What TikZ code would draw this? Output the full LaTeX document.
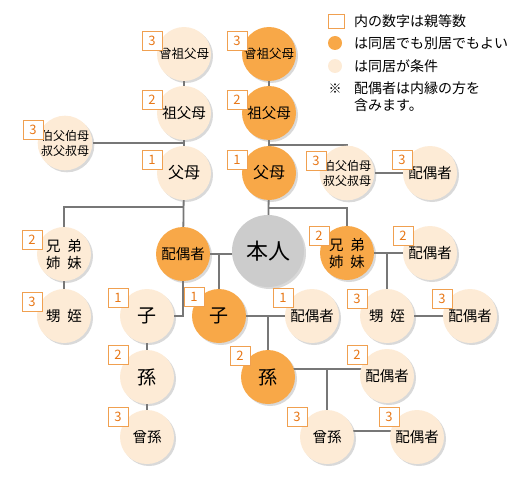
\documentclass[tikz,border=0pt]{standalone}
\usepackage{fontspec}
\setmainfont{Noto Sans CJK JP}
\usetikzlibrary{backgrounds,shadows}
\definecolor{KinOrange}{HTML}{F8A848}
\definecolor{KinCream}{HTML}{FDEBD6}
\definecolor{KinGray}{HTML}{CCCCCC}
\definecolor{KinLine}{HTML}{777777}
\definecolor{KinBadge}{HTML}{F0A050}
\definecolor{KinDigit}{HTML}{E87818}

\begin{document}
\begin{tikzpicture}[x=1pt, y=-1pt,
    kin/.style={circle, minimum size=54pt, inner sep=0pt, align=center, font=\fontsize{14.5}{17}\selectfont,
      drop shadow={shadow xshift=2pt, shadow yshift=-2pt, opacity=.3}},
    near/.style={kin, fill=KinCream},
    far/.style={kin, fill=KinOrange},
    small/.style={font=\fontsize{12}{15}\selectfont},
    big/.style={font=\fontsize{19}{19}\selectfont},
    deg/.style={draw=KinBadge, line width=1pt, fill=white, minimum width=20pt, minimum height=19pt, inner sep=0pt,
      text=KinDigit, font=\fontsize{13}{13}\selectfont},
    keytext/.style={anchor=west, inner sep=0pt, align=left, font=\fontsize{14}{17}\selectfont},
    link/.style={draw=KinLine, line width=1.8pt}]

  \useasboundingbox (0,0) rectangle (518,500);

  \node[near, font=\fontsize{12.5}{15}\selectfont] (ggpl) at (184,54) {曾祖父母};
  \node[far, font=\fontsize{12.5}{15}\selectfont] (ggpr) at (269,54) {曾祖父母};
  \node[near] (gpl) at (184,113) {祖父母};
  \node[far] (gpr) at (269,113) {祖父母};
  \node[near, small] (unl) at (65,143) {伯父伯母\\叔父叔母};
  \node[near, font=\fontsize{16}{16}\selectfont] (pl) at (184,173) {父母};
  \node[far, font=\fontsize{16}{16}\selectfont] (pr) at (269,173) {父母};
  \node[near, small] (unr) at (347,173) {伯父伯母\\叔父叔母};
  \node[near] (unrs) at (430,173) {配偶者};

  \node[near] (sibl) at (64,254) {兄\hspace{7pt}弟\\姉\hspace{7pt}妹};
  \node[far] (sp) at (183,254) {配偶者};
  \node[circle, fill=KinGray, minimum size=72pt, inner sep=0pt, font=\fontsize{22}{22}\selectfont,
    drop shadow={shadow xshift=2pt, shadow yshift=-2pt, opacity=.3}] (me) at (268,251) {本人};
  \node[far] (sibr) at (347,253) {兄\hspace{7pt}弟\\姉\hspace{7pt}妹};
  \node[near] (sibrs) at (430,253) {配偶者};

  \node[near] (nepl) at (64,316) {甥\hspace{7pt}姪};
  \node[near, big] (chl) at (147,316) {子};
  \node[far, big] (chr) at (219,316) {子};
  \node[near] (chrs) at (312,316) {配偶者};
  \node[near] (nepr) at (387,316) {甥\hspace{7pt}姪};
  \node[near] (neprs) at (470,316) {配偶者};

  \node[near, big] (gcl) at (147,377) {孫};
  \node[far, big] (gcr) at (268,377) {孫};
  \node[near] (gcrs) at (387,376) {配偶者};

  \node[near] (ggcl) at (147,437) {曾孫};
  \node[near] (ggcr) at (327,437) {曾孫};
  \node[near] (ggcrs) at (417,437) {配偶者};

  \begin{scope}[on background layer]
    \draw[link] (ggpl) -- (gpl) -- (pl) -- (sp);
    \draw[link] (unl) -- (unl -| gpl);
    \draw[link] (ggpr) -- (gpr) -- (pr) -- (me);
    \draw[link] (pr |- 0,145) -| (unr);
    \draw[link] (unr) -- (unrs);
    \draw[link] (pl |- 0,207) -| (sibl) -- (nepl);
    \draw[link] (pr |- 0,208) -| (sibr);
    \draw[link] (sp) -- (sp -| me);
    \draw[link] (chr |- sp) -- (chr);
    \draw[link] (sp) |- (chl);
    \draw[link] (chl) -- (gcl) -- (ggcl);
    \draw[link] (chr) -- (chrs);
    \draw[link] (gcr |- chr) -- (gcr);
    \draw[link] (sibr) -- (sibrs);
    \draw[link] (nepr |- sibr) -- (nepr);
    \draw[link] (nepr) -- (neprs);
    \draw[link] (gcr |- 0,369) -- (gcrs |- 0,369);
    \draw[link] (ggcr |- 0,369) -- (ggcr);
    \draw[link] (ggcr |- 0,431) -- (ggcrs |- 0,431);
  \end{scope}

  \foreach \n/\x/\y/\d in {ggpl/152/41/3, ggpr/237/41/3, gpl/152/100/2, gpr/237/100/2, unl/33/130/3,
      pl/152/160/1, pr/237/160/1, unr/316/161/3, unrs/402/160/3,
      sibl/32/240/2, sibr/319/236/2, sibrs/403/236/2,
      nepl/32/302/3, chl/118/298/1, chr/194/297/1, chrs/283/298/1, nepr/357/299/3, neprs/442/299/3,
      gcl/118/355/2, gcr/240/356/2, gcrs/357/355/2,
      ggcl/118/417/3, ggcr/297/417/3, ggcrs/389/417/3}
    \node[deg] (d\n) at (\x,\y) {\d};

  \node[draw=KinBadge, line width=.8pt, fill=white, minimum width=16pt, minimum height=14pt, inner sep=0pt] (keybox) at (336,21) {};
  \node[circle, fill=KinOrange, minimum size=14pt, inner sep=0pt] (keyfar) at (335,43) {};
  \node[circle, fill=KinCream, minimum size=14pt, inner sep=0pt] (keynear) at (335,66) {};
  \node[inner sep=0pt, font=\fontsize{13}{13}\selectfont] (keymark) at (335,89) {※};
  \node[keytext] (keyone) at (354,21) {内の数字は親等数};
  \node[keytext] (keytwo) at (354,43) {は同居でも別居でもよい};
  \node[keytext] (keythree) at (354,66) {は同居が条件};
  \node[keytext, anchor=north west] (keyfour) at (354,81) {配偶者は内縁の方を\\含みます。};
\end{tikzpicture}
\end{document}
